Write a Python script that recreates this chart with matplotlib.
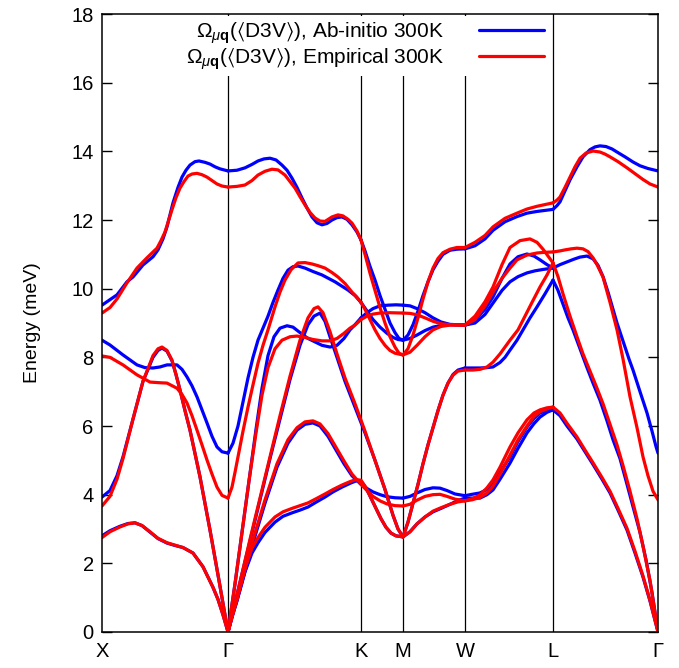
import matplotlib
matplotlib.use("Agg")
import matplotlib.pyplot as plt

# -----------------------------
# k-path (path length, arbitrary units) and labels
# -----------------------------
kpoints = [0, 126, 259, 301, 363, 451, 556]
klabels = ['X', 'Γ', 'K', 'M', 'W', 'L', 'Γ']
yticks = [0, 2, 4, 6, 8, 10, 12, 14, 16, 18]

# -----------------------------
# Ab-initio 300K branches, (k, energy meV)
# -----------------------------
ab_x_gamma = [
    [(0, 2.80), (8, 2.95), (18, 3.08), (26, 3.16), (33, 3.18), (40, 3.10), (48, 2.91), (56, 2.72), (65, 2.59),
     (73, 2.52), (81, 2.46), (91, 2.30), (101, 1.90), (106, 1.60), (111, 1.30), (116, 0.95), (121, 0.50), (126, 0.0)],
    [(0, 3.93), (8, 4.12), (15, 4.55), (21, 5.10), (31, 6.20), (41, 7.30), (51, 8.00), (56, 8.20), (60, 8.27),
     (65, 8.18), (70, 7.90), (74, 7.50), (78, 7.05), (83, 6.45), (88, 5.88), (98, 4.52), (108, 2.97), (117, 1.50), (126, 0.0)],
    [(0, 8.50), (8, 8.36), (21, 8.07), (35, 7.78), (43, 7.70), (51, 7.69), (58, 7.72), (65, 7.78), (75, 7.78),
     (80, 7.65), (85, 7.43), (90, 7.17), (95, 6.85), (100, 6.47), (105, 6.09), (110, 5.70), (115, 5.39), (120, 5.25), (126, 5.21)],
    [(0, 9.52), (8, 9.68), (15, 9.82), (25, 10.20), (31, 10.34), (41, 10.69), (51, 10.93), (56, 11.13), (61, 11.45),
     (65, 11.80), (71, 12.50), (76, 12.95), (80, 13.25), (84, 13.45), (88, 13.60), (93, 13.70), (97, 13.72),
     (103, 13.68), (108, 13.63), (113, 13.55), (118, 13.49), (126, 13.43)],
]
ab_gamma_m = [
    [(126, 0), (130, 0.45), (135, 0.90), (143, 1.75), (150, 2.30), (156, 2.60), (163, 2.90), (173, 3.20), (181, 3.37),
     (190, 3.47), (198, 3.55), (206, 3.64), (214, 3.78), (223, 3.93), (231, 4.08), (240, 4.22), (248, 4.33),
     (254, 4.40), (259, 4.40), (264, 4.20), (269, 3.90), (274, 3.60), (279, 3.30), (284, 3.05), (289, 2.88),
     (294, 2.80), (301, 2.77)],
    [(126, 0), (138, 1.25), (150, 2.50), (163, 3.75), (175, 4.80), (186, 5.50), (195, 5.88), (203, 6.05), (211, 6.09),
     (218, 6.00), (226, 5.70), (234, 5.30), (242, 4.90), (250, 4.55), (259, 4.30), (265, 4.18), (271, 4.08),
     (278, 4.00), (285, 3.94), (293, 3.91), (301, 3.90)],
    [(126, 0), (138, 1.45), (148, 2.65), (158, 3.85), (168, 5.05), (178, 6.20), (188, 7.35), (198, 8.35), (206, 8.95),
     (212, 9.20), (218, 9.29), (223, 9.05), (228, 8.60), (235, 8.00), (243, 7.30), (253, 6.55), (263, 5.80),
     (273, 5.00), (283, 4.15), (291, 3.40), (296, 3.00), (301, 2.77)],
]
ab_gamma_k = [
    [(126, 0), (133, 1.40), (140, 2.90), (147, 4.40), (154, 5.90), (160, 7.10), (166, 8.05), (172, 8.60), (178, 8.85),
     (185, 8.92), (191, 8.88), (198, 8.72), (206, 8.55), (213, 8.45), (220, 8.35), (228, 8.30), (235, 8.35),
     (242, 8.55), (248, 8.80), (253, 8.95), (259, 9.15)],
    [(126, 5.21), (131, 5.50), (136, 6.00), (141, 6.70), (146, 7.40), (151, 8.00), (156, 8.50), (161, 8.85), (166, 9.20),
     (171, 9.60), (176, 9.96), (181, 10.30), (186, 10.54), (191, 10.64), (196, 10.66), (203, 10.60), (211, 10.50),
     (220, 10.40), (233, 10.20), (246, 9.96), (253, 9.80), (259, 9.60)],
    [(126, 13.43), (135, 13.45), (143, 13.52), (150, 13.62), (156, 13.72), (162, 13.78), (168, 13.80), (174, 13.75),
     (180, 13.60), (185, 13.45), (190, 13.22), (195, 12.95), (200, 12.64), (205, 12.35), (210, 12.09), (215, 11.92),
     (220, 11.86), (225, 11.90), (230, 12.00), (235, 12.07), (240, 12.09), (245, 12.02), (250, 11.86), (255, 11.65),
     (259, 11.42)],
]
ab_k_m = [
    [(259, 9.15), (265, 9.30), (271, 9.42), (278, 9.50), (286, 9.52), (294, 9.53), (301, 9.52)],
    [(259, 9.60), (265, 9.35), (271, 9.10), (278, 8.88), (285, 8.70), (291, 8.58), (296, 8.52), (301, 8.50)],
    [(259, 11.42), (263, 11.10), (268, 10.65), (273, 10.25), (278, 9.80), (283, 9.40), (288, 9.00), (293, 8.72),
     (297, 8.55), (301, 8.50)],
]
ab_m_w = [
    [(301, 2.77), (308, 2.92), (315, 3.15), (323, 3.35), (331, 3.50), (339, 3.60), (348, 3.72), (356, 3.83), (363, 3.90)],
    [(301, 3.90), (308, 3.95), (315, 4.05), (323, 4.15), (331, 4.20), (338, 4.19), (345, 4.12), (353, 4.02), (363, 3.97)],
    [(301, 2.77), (306, 3.20), (311, 3.75), (316, 4.30), (321, 4.90), (326, 5.45), (331, 5.95), (336, 6.45), (341, 6.90),
     (346, 7.25), (351, 7.50), (356, 7.63), (363, 7.69)],
    [(301, 9.52), (308, 9.50), (315, 9.42), (323, 9.30), (331, 9.15), (339, 9.03), (348, 8.96), (363, 8.94)],
    [(301, 8.50), (308, 8.55), (315, 8.65), (323, 8.78), (331, 8.88), (339, 8.93), (348, 8.95), (363, 8.94)],
    [(301, 8.50), (306, 8.65), (311, 8.95), (316, 9.35), (321, 9.80), (326, 10.20), (331, 10.55), (336, 10.80),
     (341, 11.00), (348, 11.12), (355, 11.15), (363, 11.16)],
]
ab_w_l = [
    [(363, 3.90), (370, 3.90), (378, 3.90), (385, 4.00), (391, 4.14), (398, 4.45), (408, 4.92), (416, 5.35), (425, 5.80),
     (432, 6.07), (438, 6.26), (445, 6.40), (451, 6.47)],
    [(363, 3.97), (370, 4.01), (378, 4.05), (385, 4.15), (391, 4.34), (398, 4.65), (408, 5.10), (416, 5.55), (425, 5.97),
     (432, 6.22), (438, 6.38), (445, 6.45), (451, 6.47)],
    [(363, 7.69), (371, 7.69), (378, 7.69), (385, 7.70), (391, 7.72), (398, 7.85), (403, 8.00), (408, 8.21), (415, 8.50),
     (421, 8.80), (428, 9.15), (435, 9.47), (443, 9.85), (451, 10.25)],
    [(363, 8.94), (373, 9.00), (383, 9.25), (391, 9.58), (400, 9.95), (408, 10.20), (416, 10.35), (425, 10.46),
     (433, 10.52), (441, 10.56), (451, 10.60)],
    [(363, 8.94), (373, 9.10), (383, 9.40), (391, 9.76), (400, 10.30), (408, 10.72), (416, 10.93), (425, 11.01),
     (432, 10.95), (438, 10.84), (445, 10.70), (451, 10.60)],
    [(363, 11.16), (373, 11.25), (383, 11.45), (391, 11.70), (403, 11.95), (415, 12.10), (425, 12.20), (435, 12.25),
     (443, 12.28), (451, 12.31)],
]
ab_l_gamma = [
    [(451, 6.47), (458, 6.30), (465, 6.00), (475, 5.62), (483, 5.25), (491, 4.88), (500, 4.45), (508, 4.05), (516, 3.55),
     (525, 2.97), (533, 2.30), (541, 1.60), (548, 0.90), (556, 0)],
    [(451, 10.25), (456, 9.95), (461, 9.55), (466, 9.15), (471, 8.80), (478, 8.25), (485, 7.70), (491, 7.25), (498, 6.75),
     (505, 6.15), (511, 5.60), (518, 5.05), (525, 4.30), (531, 3.65), (538, 2.90), (544, 2.10), (550, 1.15), (556, 0)],
    [(451, 10.60), (458, 10.70), (465, 10.78), (472, 10.86), (478, 10.92), (485, 10.95), (491, 10.87), (496, 10.68),
     (501, 10.35), (506, 9.90), (511, 9.40), (515, 9.00), (519, 8.65), (523, 8.30), (527, 7.95), (531, 7.63),
     (538, 7.00), (545, 6.38), (550, 5.85), (554, 5.40), (556, 5.21)],
    [(451, 12.31), (455, 12.42), (458, 12.53), (463, 12.85), (468, 13.17), (475, 13.55), (481, 13.84), (488, 14.05),
     (493, 14.13), (498, 14.16), (504, 14.14), (510, 14.07), (515, 13.98), (523, 13.84), (531, 13.69), (538, 13.58),
     (546, 13.50), (556, 13.43)],
]

# -----------------------------
# Empirical 300K branches, (k, energy meV)
# -----------------------------
em_x_gamma = [
    [(0, 2.75), (8, 2.92), (18, 3.06), (26, 3.15), (33, 3.18), (40, 3.10), (48, 2.92), (56, 2.73), (65, 2.60),
     (73, 2.53), (81, 2.46), (91, 2.30), (101, 1.90), (106, 1.60), (111, 1.30), (116, 0.95), (121, 0.50), (126, 0.0)],
    [(0, 3.67), (8, 3.95), (15, 4.45), (21, 5.05), (31, 6.20), (41, 7.30), (51, 8.05), (56, 8.25), (60, 8.30),
     (65, 8.20), (70, 7.92), (74, 7.50), (78, 7.05), (83, 6.45), (88, 5.88), (98, 4.52), (108, 2.97), (117, 1.50), (126, 0.0)],
    [(0, 8.04), (8, 8.00), (21, 7.78), (35, 7.49), (48, 7.28), (58, 7.26), (65, 7.25), (75, 7.10), (80, 6.92),
     (85, 6.67), (90, 6.30), (95, 5.88), (100, 5.45), (105, 5.01), (110, 4.60), (115, 4.22), (120, 3.98), (126, 3.90)],
    [(0, 9.29), (8, 9.45), (15, 9.70), (25, 10.17), (35, 10.60), (45, 10.90), (55, 11.18), (59, 11.40), (63, 11.65),
     (70, 12.30), (74, 12.65), (78, 12.93), (82, 13.12), (86, 13.28), (90, 13.34), (95, 13.36), (100, 13.32),
     (105, 13.25), (110, 13.15), (115, 13.05), (120, 12.99), (126, 12.96)],
]
em_gamma_m = [
    [(126, 0), (130, 0.50), (135, 0.95), (143, 1.85), (150, 2.45), (156, 2.75), (163, 3.05), (173, 3.35), (181, 3.50),
     (190, 3.60), (198, 3.68), (206, 3.76), (214, 3.88), (223, 4.02), (231, 4.15), (240, 4.28), (248, 4.38),
     (254, 4.44), (259, 4.42), (264, 4.20), (269, 3.90), (274, 3.60), (279, 3.30), (284, 3.05), (289, 2.88),
     (294, 2.80), (301, 2.77)],
    [(126, 0), (138, 1.30), (150, 2.60), (163, 3.85), (175, 4.90), (186, 5.60), (195, 5.95), (203, 6.12), (211, 6.15),
     (218, 6.06), (226, 5.78), (234, 5.38), (242, 4.98), (250, 4.60), (259, 4.30), (265, 4.12), (271, 3.95),
     (278, 3.82), (285, 3.73), (293, 3.68), (301, 3.67)],
    [(126, 0), (138, 1.45), (148, 2.70), (158, 3.90), (168, 5.10), (178, 6.30), (188, 7.45), (198, 8.50), (206, 9.15),
     (212, 9.42), (216, 9.47), (221, 9.30), (228, 8.75), (235, 8.10), (243, 7.40), (253, 6.65), (263, 5.85),
     (273, 5.00), (283, 4.15), (291, 3.40), (296, 3.00), (301, 2.77)],
]
em_gamma_k = [
    [(126, 0), (133, 1.40), (140, 2.90), (147, 4.40), (154, 5.80), (160, 6.90), (166, 7.70), (173, 8.25), (180, 8.50),
     (188, 8.60), (195, 8.62), (203, 8.58), (211, 8.52), (220, 8.48), (228, 8.48), (235, 8.55), (242, 8.70),
     (248, 8.85), (253, 8.94), (259, 9.10)],
    [(126, 3.90), (130, 4.22), (133, 4.65), (136, 5.10), (141, 5.85), (146, 6.55), (151, 7.20), (156, 7.83), (161, 8.35),
     (166, 8.80), (173, 9.47), (178, 9.90), (183, 10.25), (189, 10.55), (196, 10.75), (203, 10.76), (210, 10.72),
     (216, 10.67), (223, 10.60), (230, 10.47), (236, 10.34), (243, 10.15), (250, 9.90), (255, 9.75), (259, 9.60)],
    [(126, 12.96), (135, 12.98), (143, 13.02), (150, 13.15), (156, 13.31), (163, 13.42), (170, 13.48), (176, 13.46),
     (183, 13.31), (188, 13.12), (193, 12.93), (198, 12.68), (203, 12.44), (208, 12.22), (213, 12.06), (218, 11.97),
     (223, 11.96), (230, 12.09), (236, 12.15), (241, 12.12), (246, 12.02), (250, 11.91), (255, 11.68), (259, 11.42)],
]
em_k_m = [
    [(259, 9.10), (265, 9.20), (271, 9.26), (278, 9.29), (288, 9.30), (301, 9.29)],
    [(259, 9.60), (263, 9.40), (268, 9.10), (273, 8.80), (278, 8.55), (283, 8.35), (288, 8.20), (293, 8.12), (301, 8.07)],
    [(259, 11.42), (263, 11.00), (268, 10.45), (273, 9.95), (278, 9.45), (283, 9.00), (288, 8.60), (293, 8.30),
     (297, 8.12), (301, 8.07)],
]
em_m_w = [
    [(301, 2.77), (308, 2.92), (315, 3.15), (323, 3.35), (331, 3.52), (339, 3.62), (348, 3.72), (356, 3.79), (363, 3.82)],
    [(301, 3.67), (308, 3.72), (315, 3.84), (323, 3.95), (331, 4.00), (338, 4.01), (345, 3.95), (353, 3.87), (363, 3.82)],
    [(301, 2.77), (306, 3.20), (311, 3.75), (316, 4.30), (321, 4.90), (326, 5.45), (331, 5.95), (336, 6.45), (341, 6.90),
     (346, 7.25), (351, 7.48), (356, 7.60), (363, 7.63)],
    [(301, 9.29), (308, 9.28), (315, 9.24), (323, 9.15), (331, 9.05), (339, 8.98), (348, 8.95), (363, 8.94)],
    [(301, 8.07), (308, 8.15), (315, 8.35), (323, 8.60), (331, 8.80), (339, 8.90), (348, 8.94), (363, 8.94)],
    [(301, 8.07), (306, 8.25), (311, 8.65), (316, 9.15), (321, 9.70), (326, 10.20), (331, 10.60), (336, 10.88),
     (341, 11.05), (348, 11.15), (355, 11.20), (363, 11.20)],
]
em_w_l = [
    [(363, 3.82), (370, 3.85), (378, 3.92), (385, 4.05), (391, 4.25), (398, 4.60), (408, 5.15), (416, 5.60), (425, 6.00),
     (432, 6.28), (438, 6.42), (445, 6.50), (451, 6.55)],
    [(363, 3.82), (370, 3.88), (378, 3.99), (385, 4.20), (391, 4.43), (398, 4.80), (408, 5.39), (416, 5.80), (425, 6.18),
     (432, 6.38), (438, 6.47), (445, 6.53), (451, 6.55)],
    [(363, 7.63), (371, 7.63), (378, 7.65), (385, 7.72), (391, 7.86), (398, 8.10), (403, 8.30), (408, 8.50), (416, 8.80),
     (423, 9.20), (430, 9.60), (438, 10.05), (445, 10.40), (451, 10.75)],
    [(363, 8.94), (373, 9.10), (383, 9.50), (391, 9.90), (400, 10.30), (408, 10.60), (415, 10.84), (425, 10.98),
     (435, 11.04), (443, 11.06), (451, 11.07)],
    [(363, 8.94), (373, 9.20), (383, 9.62), (391, 10.05), (400, 10.70), (408, 11.20), (418, 11.40), (428, 11.45),
     (435, 11.35), (441, 11.15), (446, 10.95), (451, 10.75)],
    [(363, 11.20), (373, 11.35), (383, 11.55), (391, 11.80), (403, 12.05), (415, 12.20), (425, 12.32), (435, 12.40),
     (443, 12.45), (451, 12.50)],
]
em_l_gamma = [
    [(451, 6.55), (458, 6.38), (465, 6.08), (475, 5.68), (483, 5.30), (491, 4.93), (500, 4.50), (508, 4.10), (516, 3.60),
     (525, 3.02), (533, 2.35), (541, 1.63), (548, 0.92), (556, 0)],
    [(451, 10.75), (456, 10.35), (461, 9.85), (468, 9.20), (475, 8.60), (481, 8.10), (488, 7.60), (495, 7.10),
     (501, 6.65), (508, 6.05), (515, 5.45), (521, 4.85), (528, 4.10), (535, 3.30), (541, 2.50), (548, 1.50), (556, 0)],
    [(451, 11.07), (458, 11.10), (463, 11.13), (469, 11.16), (475, 11.18), (481, 11.16), (486, 11.08), (491, 10.90),
     (495, 10.70), (501, 10.34), (508, 9.60), (515, 8.80), (521, 7.95), (528, 6.85), (535, 5.95), (541, 5.10),
     (546, 4.55), (551, 4.10), (556, 3.85)],
    [(451, 12.50), (455, 12.58), (458, 12.67), (463, 12.95), (468, 13.25), (473, 13.55), (478, 13.80), (484, 13.95),
     (491, 14.01), (498, 13.98), (503, 13.92), (508, 13.84), (516, 13.70), (525, 13.52), (533, 13.35), (541, 13.18),
     (548, 13.05), (556, 12.96)],
]

ab_branches = ab_x_gamma + ab_gamma_m + ab_gamma_k + ab_k_m + ab_m_w + ab_w_l + ab_l_gamma
em_branches = em_x_gamma + em_gamma_m + em_gamma_k + em_k_m + em_m_w + em_w_l + em_l_gamma

# -----------------------------
# Plot
# -----------------------------
plt.rcParams['font.family'] = ['Liberation Sans', 'DejaVu Sans']
plt.rcParams['mathtext.fontset'] = 'custom'
plt.rcParams['mathtext.rm'] = 'Liberation Sans'
plt.rcParams['mathtext.it'] = 'Liberation Sans:italic'
plt.rcParams['mathtext.bf'] = 'Liberation Sans:bold'
plt.rcParams['mathtext.fallback'] = 'stixsans'

fig = plt.figure(figsize=(6.79, 6.68), dpi=100)
ax = fig.add_axes([0.1502, 0.0539, 0.8189, 0.9251])

lw = 2.3
for i, br in enumerate(ab_branches):
    k, e = zip(*br)
    ax.plot(k, e, color='#0000ff', lw=lw, solid_capstyle='round',
            label=r'$\Omega_{\mu\mathbf{q}}(\langle$D3V$\rangle)$, Ab-initio 300K' if i == 0 else None)
for i, br in enumerate(em_branches):
    k, e = zip(*br)
    ax.plot(k, e, color='#ff0000', lw=lw, solid_capstyle='round',
            label=r'$\Omega_{\mu\mathbf{q}}(\langle$D3V$\rangle)$, Empirical 300K' if i == 0 else None)

for kp in kpoints[1:-1]:
    ax.axvline(kp, color='black', lw=0.9, zorder=1)

ax.set_xlim(kpoints[0], kpoints[-1])
ax.set_ylim(0, 18)
ax.set_xticks(kpoints)
ax.set_xticklabels(klabels)
ax.set_yticks(yticks)
ax.tick_params(axis='x', length=0, pad=7, labelsize=14.5)
ax.tick_params(axis='y', direction='in', length=7, width=1.0, left=True, right=True, pad=6, labelsize=14.5)
for s in ax.spines.values():
    s.set_linewidth(1.1)
ax.set_ylabel('Energy (meV)', fontsize=14, labelpad=22)

leg = ax.legend(loc='upper right', bbox_to_anchor=(0.821, 1.013), markerfirst=False, fontsize=15,
                handlelength=3.1, handletextpad=1.7, labelspacing=0.0, borderpad=0.2,
                frameon=True, fancybox=False, framealpha=1.0)
leg.get_frame().set_edgecolor('none')
leg.get_frame().set_facecolor('white')
leg.set_zorder(5)

fig.savefig('out.png', dpi=100)
